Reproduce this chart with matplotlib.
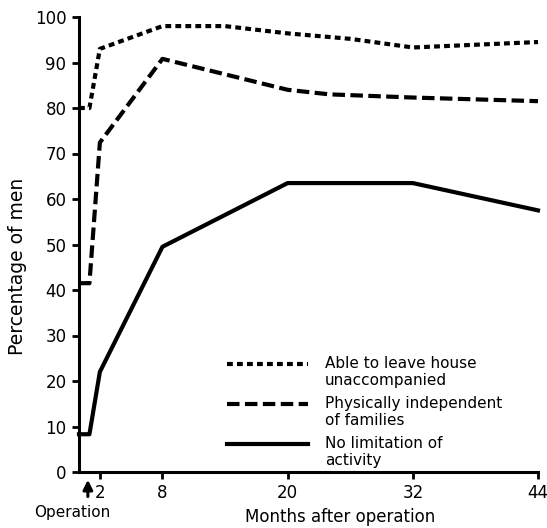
import numpy as np
import matplotlib
matplotlib.use("Agg")
import matplotlib.pyplot as plt
from matplotlib.legend_handler import HandlerLine2D

# valores (meses após a operação, % de homens)
meses_sair = [0, 1, 2, 8, 14, 20, 26, 32, 44]
pct_sair = [80, 80, 93, 98, 98, 96.4, 95.2, 93.3, 94.5]

meses_indep = [0, 1, 2, 8, 20, 24, 32, 44]
pct_indep = [41.5, 41.5, 72.4, 90.8, 84, 83, 82.3, 81.5]

meses_sem_lim = [0, 1, 2, 8, 20, 32, 44]
pct_sem_lim = [8.3, 8.3, 22, 49.5, 63.5, 63.5, 57.5]

rotulos = ["Able to leave house\nunaccompanied",
           "Physically independent\nof families",
           "No limitation of\nactivity"]
xticks = [2, 8, 20, 32, 44]
yticks = list(range(0, 101, 10))
mes_operacao = 0.85


class HandleNoTopo(HandlerLine2D):
    # põe a linha da legenda na altura da primeira linha do texto
    def create_artists(self, legend, orig_handle, xdescent, ydescent,
                       width, height, fontsize, trans):
        arts = super().create_artists(legend, orig_handle, xdescent, ydescent,
                                      width, height, fontsize, trans)
        for a in arts:
            a.set_ydata(np.asarray(a.get_ydata()) + 0.6 * fontsize)
        return arts


plt.rcParams['font.family'] = ['DejaVu Sans']
fig = plt.figure(figsize=(5.47, 5.28), dpi=100)
ax = fig.add_axes([79 / 547, 1 - 472 / 528, (538 - 79) / 547, (472 - 17) / 528])

lw = 3
l1, = ax.plot(meses_sair, pct_sair, color='black', lw=lw, linestyle=(0, (1.4, 1.0)),
              solid_joinstyle='miter', clip_on=False)
l2, = ax.plot(meses_indep, pct_indep, color='black', lw=lw, linestyle=(0, (3.0, 1.3)),
              clip_on=False)
l3, = ax.plot(meses_sem_lim, pct_sem_lim, color='black', lw=lw, linestyle='-',
              clip_on=False)

ax.set_xlim(0, 44)
ax.set_ylim(0, 100)
ax.set_xticks(xticks)
ax.set_yticks(yticks)
ax.tick_params(axis='both', direction='out', length=5, width=2, labelsize=12, pad=4)
for s in ['top', 'right']:
    ax.spines[s].set_visible(False)
for s in ['left', 'bottom']:
    ax.spines[s].set_linewidth(2.2)

# seta da operação
ax.annotate('', xy=(mes_operacao, -0.011), xycoords=('data', 'axes fraction'),
            xytext=(mes_operacao, -0.06), textcoords=('data', 'axes fraction'),
            arrowprops=dict(arrowstyle='-|>', lw=2.2, color='black', mutation_scale=14),
            annotation_clip=False)
fig.text(72 / 547, 1 - 512 / 528, "Operation", ha='center', va='center', fontsize=11)

fig.text(18 / 547, 1 - 266 / 528, "Percentage of men", rotation=90,
         ha='center', va='center', fontsize=13.5)
fig.text(340 / 547, 1 - 517 / 528, "Months after operation", ha='center',
         va='center', fontsize=12)

hl = HandleNoTopo()
leg = ax.legend([l1, l2, l3], rotulos, loc='upper left',
                bbox_to_anchor=(227 / 547, 1 - 356 / 528), bbox_transform=fig.transFigure,
                frameon=False, fontsize=11, handlelength=5.3, handletextpad=1.1,
                labelspacing=0.5, borderpad=0, borderaxespad=0,
                handler_map={l1: hl, l2: hl, l3: hl})

fig.savefig("out.png", dpi=100)
